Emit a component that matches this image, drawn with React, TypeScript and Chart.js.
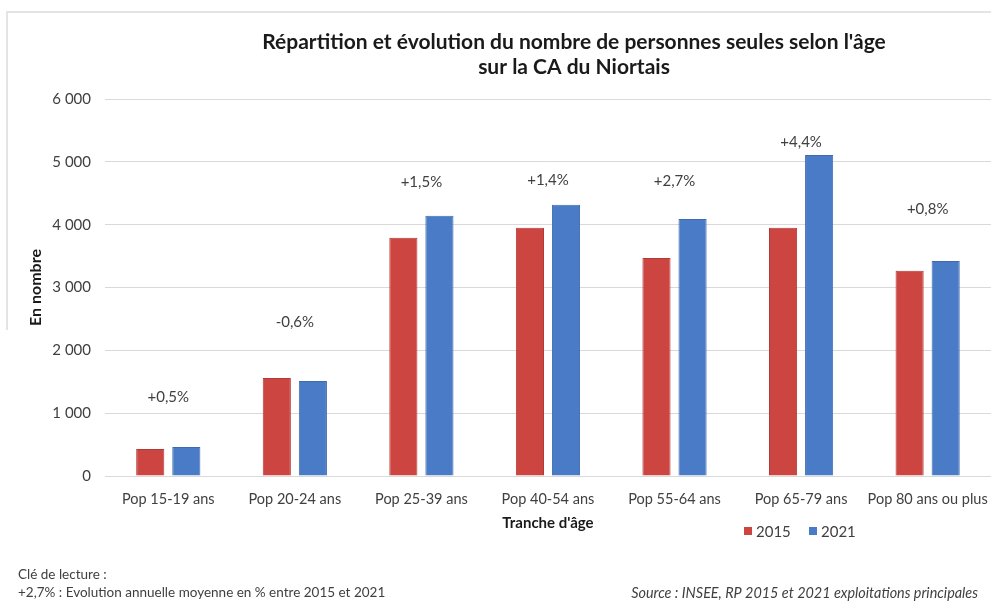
import React, { useEffect, useRef } from "react";
import { Chart, registerables } from "chart.js";

Chart.register(...registerables);

const categories = [
  "Pop 15-19 ans",
  "Pop 20-24 ans",
  "Pop 25-39 ans",
  "Pop 40-54 ans",
  "Pop 55-64 ans",
  "Pop 65-79 ans",
  "Pop 80 ans ou plus",
];
const values2015 = [430, 1560, 3790, 3950, 3470, 3950, 3265];
const values2021 = [460, 1510, 4140, 4315, 4090, 5110, 3420];
const evolutionLabels = ["+0,5%", "-0,6%", "+1,5%", "+1,4%", "+2,7%", "+4,4%", "+0,8%"];
// level (in data units) at which each evolution label sits
const evolutionLevels = [1260, 2450, 4680, 4710, 4700, 5310, 4240];
const yTicks = [0, 1000, 2000, 3000, 4000, 5000, 6000];

const titleLines = [
  "Répartition et évolution du nombre de personnes seules selon l'âge",
  "sur la CA du Niortais",
];
const noteLines = ["Clé de lecture :", "+2,7% : Evolution annuelle moyenne en % entre 2015 et 2021"];
const sourceText = "Source : INSEE, RP 2015 et 2021 exploitations principales";

const RED = "#CD4541";
const BLUE = "#4A7BC6";
const FONT = "Lato, 'Open Sans', sans-serif";

const fmt = (v: number) => {
  const s = String(Math.round(v));
  return s.replace(/\B(?=(\d{3})+(?!\d))/g, " ");
};

const decorPlugin = {
  id: "decor",
  afterDraw(chart: any) {
    const ctx = chart.ctx as CanvasRenderingContext2D;
    const x = chart.scales.x;
    const y = chart.scales.y;
    ctx.save();
    // frame
    ctx.strokeStyle = "#E4E4E4";
    ctx.lineWidth = 2;
    ctx.beginPath();
    ctx.moveTo(7, 330);
    ctx.lineTo(7, 12);
    ctx.lineTo(991, 12);
    ctx.stroke();

    // title
    ctx.fillStyle = "#1a1a1a";
    ctx.font = `bold 21px ${FONT}`;
    ctx.textAlign = "center";
    ctx.textBaseline = "middle";
    ctx.fillText(titleLines[0], 574, 42);
    ctx.fillText(titleLines[1], 574, 67);

    // evolution labels
    ctx.font = `15px ${FONT}`;
    ctx.fillStyle = "#404040";
    evolutionLabels.forEach((lab, i) => {
      ctx.fillText(lab, x.getPixelForValue(i), y.getPixelForValue(evolutionLevels[i]));
    });

    // legend
    const datasets = chart.data.datasets;
    let lx = 744;
    ctx.font = `15px ${FONT}`;
    ctx.textAlign = "left";
    datasets.forEach((ds: any) => {
      ctx.fillStyle = ds.backgroundColor;
      ctx.fillRect(lx, 527, 8, 8);
      ctx.fillStyle = "#404040";
      ctx.fillText(ds.label, lx + 12, 532);
      lx += 65;
    });

    // notes
    ctx.font = `13.5px ${FONT}`;
    ctx.fillStyle = "#404040";
    ctx.fillText(noteLines[0], 18, 575);
    ctx.fillText(noteLines[1], 18, 593);
    ctx.font = `italic 14.4px ${FONT}`;
    ctx.textAlign = "right";
    ctx.fillText(sourceText, 978, 593);
    ctx.restore();
  },
};

export default function App() {
  const ref = useRef<HTMLCanvasElement>(null);
  useEffect(() => {
    document.body.style.margin = "0";
    const chart = new Chart(ref.current as HTMLCanvasElement, {
      type: "bar",
      data: {
        labels: categories,
        datasets: [
          { label: "2015", data: values2015, backgroundColor: RED, borderColor: "#B23A36", borderWidth: 1 },
          { label: "2021", data: values2021, backgroundColor: BLUE, borderColor: "#3E6BB0", borderWidth: 1 },
        ],
      },
      options: {
        responsive: false,
        animation: false,
        layout: { padding: { left: 22, top: 99, right: 4, bottom: 69 } },
        datasets: { bar: { categoryPercentage: 0.57, barPercentage: 0.78 } } as any,
        plugins: { legend: { display: false }, tooltip: { enabled: false } },
        scales: {
          x: {
            grid: { display: false },
            border: { display: false },
            ticks: { color: "#404040", font: { family: FONT, size: 14.5 }, padding: 7, maxRotation: 0, autoSkip: false },
            title: { display: true, text: "Tranche d'âge", color: "#1a1a1a", font: { family: FONT, size: 15, weight: "bold" }, padding: { top: 10 } },
            afterFit: (s: any) => { s.height = 60; },
          },
          y: {
            min: 0,
            max: 6000,
            afterBuildTicks: (s: any) => { s.ticks = yTicks.map((v) => ({ value: v })); },
            grid: { color: "#D9D9D9", lineWidth: 1, drawTicks: false },
            border: { display: false },
            ticks: { color: "#404040", font: { family: FONT, size: 15 }, padding: 14, callback: (v: any) => fmt(Number(v)) },
            title: { display: true, text: "En nombre", color: "#1a1a1a", font: { family: FONT, size: 16, weight: "bold" }, padding: { top: 4 } },
            afterFit: (s: any) => { s.width = 83; },
          },
        },
      },
      plugins: [decorPlugin],
    });
    return () => chart.destroy();
  }, []);
  return <canvas ref={ref} width={995} height={605} style={{ display: "block" }} />;
}
